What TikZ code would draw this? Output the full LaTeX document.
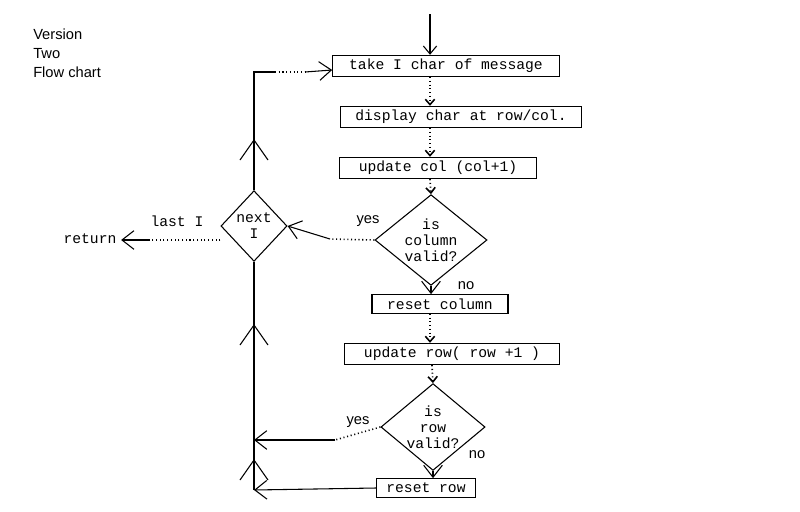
\documentclass[tikz,border=0pt]{standalone}
\usepackage{fontspec}
\setmainfont{Liberation Sans}
\newfontfamily\monof{Liberation Mono}
\usetikzlibrary{shapes.geometric,arrows.meta}
\begin{document}
\begin{tikzpicture}[x=0.75pt,y=-0.75pt,
  box/.style={draw,thick,rectangle,minimum height=16pt,inner sep=1pt,font=\monof\fontsize{11}{12}\selectfont},
  dia/.style={draw,thick,diamond,aspect=1.2,inner sep=0pt,font=\monof\fontsize{11}{12}\selectfont,align=center},
  link/.style={thick,dotted,line width=1.2pt},
  solid/.style={thick},
  flow/.style={thick,-{Straight Barb[length=9pt,width=14pt]}},
  lbl/.style={font=\fontsize{11}{12}\selectfont}]
\useasboundingbox (0,0) rectangle (800,511);
\node[align=left,anchor=north west,font=\fontsize{11}{14}\selectfont,inner sep=0pt] (ttl) at (33,29) {Version\\Two\\Flow chart};
\node[box,minimum width=170pt] (b1) at (446,66) {take I  char of message};
\node[box,minimum width=181pt] (b2) at (461,117) {display char at row/col.};
\node[box,minimum width=148pt] (b3) at (438,168) {update col (col+1)};
\node[dia,minimum width=84pt,minimum height=68pt] (d1) at (431,240) {is\\column\\valid?};
\node[box,minimum width=102pt,minimum height=14pt] (b4) at (440,304) {reset column};
\node[box,minimum width=161pt] (b5) at (452,354) {update row( row +1 )};
\node[dia,minimum width=68pt,minimum height=58pt] (d2) at (433,427) {is\\row\\valid?};
\node[box,minimum width=74pt,minimum height=14pt] (b6) at (426,488) {reset row};
\node[dia,minimum width=48pt,minimum height=53pt] (nx) at (254,226) {next\\I};
\node[font=\monof\fontsize{11}{12}\selectfont] (ret) at (90,239) {return};
\node[font=\monof\fontsize{11}{12}\selectfont] (lastI) at (177,221) {last I};
\node[lbl] (y1) at (368,221) {yes};
\node[lbl] (n1) at (466,286) {no};
\node[lbl] (y2) at (358,422) {yes};
\node[lbl] (n2) at (477,455) {no};
\coordinate (top) at (430,14);
\coordinate (tl) at (254,72);
\coordinate (L2) at (254,440);
\coordinate (L3) at (254,490);
\draw[thick,-{Straight Barb[length=6pt,width=10pt]}] (top) -- (b1.north -| top);
\draw[link,-{Straight Barb[length=4pt,width=7pt]}] (b1.south -| 430,0) -- (b2.north -| 430,0);
\draw[link,-{Straight Barb[length=4pt,width=7pt]}] (b2.south -| 430,0) -- (b3.north -| 430,0);
\draw[link,-{Straight Barb[length=4pt,width=7pt]}] (b3.south -| 430,0) -- (d1.north);
\draw[flow] (d1.south) -- (b4.north -| d1.south);
\draw[link,-{Straight Barb[length=4pt,width=7pt]}] (b4.south -| 430,0) -- (b5.north -| 430,0);
\draw[link,-{Straight Barb[length=4pt,width=7pt]}] (b5.south -| 432,0) -- (d2.north);
\draw[flow] (d2.south) -- (b6.north -| d2.south);
\draw[link] (d1.west) -- (330,239);
\draw[flow] (330,239) -- (nx.east);
\draw[link] (nx.west |- 0,240) -- (150,240);
\draw[flow] (150,240) -- (ret.east |- 0,240);
\draw[link] (d2.west) -- (335,440);
\draw[flow] (335,440) -- (L2);
\draw[flow] (b6.west) -- (L3);
\draw[solid] (L3) -- (nx.south);
\draw[solid] (nx.north) -- (tl) -- (275,72);
\draw[link] (275,72) -- (305,72);
\draw[flow] (305,72) -- (b1.west |- 0,70);
\foreach \yy in {140,325,460}
  \draw[thick] (240,\yy+20) -- (254,\yy) -- (268,\yy+20);
\end{tikzpicture}
\end{document}
